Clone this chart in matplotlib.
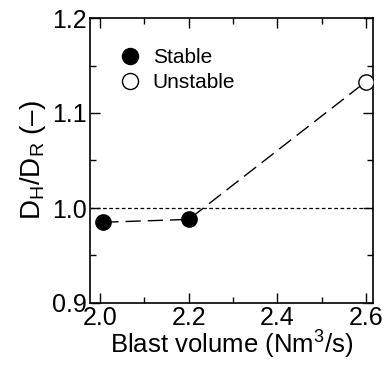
import matplotlib
matplotlib.use("Agg")
import matplotlib.pyplot as plt

plt.rcParams['font.family'] = ['Liberation Sans', 'DejaVu Sans']
plt.rcParams['mathtext.fontset'] = 'custom'
plt.rcParams['mathtext.rm'] = 'Liberation Sans'
plt.rcParams['mathtext.it'] = 'Liberation Sans'

# data
blast_volume = [2.007, 2.2, 2.6]
ratio = [0.985, 0.988, 1.133]
stable_x = [2.007, 2.2]
stable_y = [0.985, 0.988]
unstable_x = [2.6]
unstable_y = [1.133]
x_ticks = [2.0, 2.2, 2.4, 2.6]
x_minor = [2.1, 2.3, 2.5]
y_ticks = [0.9, 1.0, 1.1, 1.2]
y_minor = [0.95, 1.05, 1.15]

fig = plt.figure(figsize=(3.83, 3.65), dpi=100)
ax = fig.add_axes([90/383, 1 - 303/365, 283/383, 285/365])

ax.axhline(1.0, color='black', lw=0.9, ls=(0, (3, 2)))
ax.plot(blast_volume, ratio, color='black', lw=1.0, ls=(0, (11, 5)), zorder=2)
ax.plot(stable_x, stable_y, 'o', ms=11, mfc='black', mec='black', label='Stable', zorder=3)
ax.plot(unstable_x, unstable_y, 'o', ms=11, mfc='white', mec='black', mew=1.0, label='Unstable', zorder=3)

ax.set_xlim(1.977, 2.616)
ax.set_ylim(0.9, 1.2)
ax.set_xticks(x_ticks)
ax.set_xticks(x_minor, minor=True)
ax.set_yticks(y_ticks)
ax.set_yticks(y_minor, minor=True)
ax.set_xticklabels(['2.0', '2.2', '2.4', '2.6'])
ax.set_yticklabels(['0.9', '1.0', '1.1', '1.2'])
ax.tick_params(which='both', direction='in', top=True, right=True, labelsize=18, width=1.0)
ax.tick_params(which='major', length=7, pad=2)
ax.tick_params(which='minor', length=4)
for s in ax.spines.values():
    s.set_linewidth(1.2)

ax.set_xlabel('Blast volume (Nm$^3$/s)', fontsize=18.5, labelpad=-1)
ax.set_ylabel('D$_H$/D$_R$ (\u2013)', fontsize=20, labelpad=3)

ax.legend(loc='upper left', bbox_to_anchor=(0.03, 0.96), frameon=False, fontsize=15,
          handletextpad=0.5, labelspacing=0.3, handlelength=1.2, markerscale=1.05)

fig.savefig('out.png', dpi=100)
